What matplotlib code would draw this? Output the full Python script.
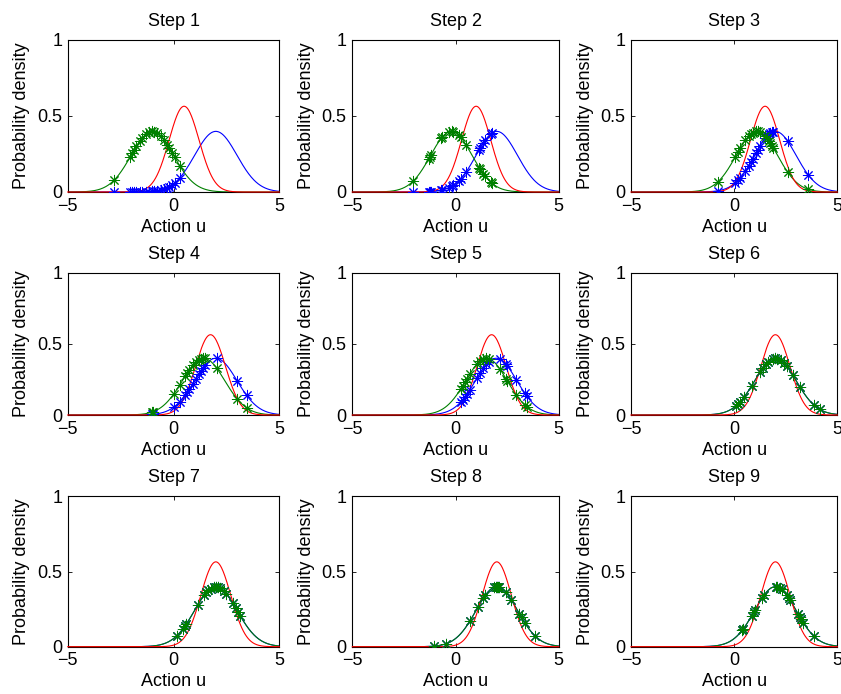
import numpy as np
import matplotlib
matplotlib.use('Agg')
import matplotlib.pyplot as plt

plt.rcParams['font.family'] = ['Liberation Sans', 'DejaVu Sans']
plt.rcParams['font.size'] = 13

# Gaussian parameters per step
red_mu = [0.5, 1.0, 1.5, 1.75, 1.75, 2.0, 2.0, 2.0, 2.0]
red_sigma = 0.707
blue_mu = [2.0, 2.0, 2.0, 2.0, 1.97, 2.0, 2.0, 2.0, 2.0]
green_mu = [-1.0, -0.2, 1.1, 1.42, 1.5, 2.0, 2.0, 2.0, 2.0]
pol_sigma = 1.0

# sampled actions per step
samples = [
    [-2.8, -2.05, -1.95, -1.85, -1.75, -1.6, -1.5, -1.3, -1.15, -1.0,
     -0.9, -0.8, -0.6, -0.45, -0.3, -0.2, -0.05, 0.05, 0.3],
    [-2.05, -1.3, -1.25, -1.2, -0.7, -0.65, -0.3, -0.15, -0.1, 0.15,
     0.25, 0.5, 1.15, 1.2, 1.35, 1.45, 1.7, 1.75],
    [-0.8, 0.05, 0.2, 0.3, 0.55, 0.7, 0.8, 0.9, 1.05, 1.15, 1.25, 1.5,
     1.6, 1.7, 1.75, 1.85, 1.9, 2.6, 3.6],
    [-1.0, -0.98, 0.0, 0.3, 0.55, 0.65, 0.75, 0.9, 1.05, 1.2, 1.3, 1.4,
     1.5, 2.05, 3.0, 3.45],
    [0.25, 0.35, 0.45, 0.55, 0.7, 1.05, 1.2, 1.35, 1.5, 1.6, 2.15, 2.45,
     2.5, 2.95, 3.35, 3.45],
    [0.1, 0.2, 0.3, 0.5, 0.85, 1.25, 1.4, 1.55, 1.65, 1.9, 2.0, 2.1, 2.25,
     2.4, 2.55, 2.85, 3.2, 3.85, 4.15],
    [0.15, 0.45, 0.55, 0.6, 1.15, 1.45, 1.55, 1.65, 1.75, 1.9, 2.0, 2.1,
     2.2, 2.4, 2.5, 2.8, 2.95, 3.05, 3.15],
    [-1.05, -0.45, 0.7, 1.1, 1.35, 1.45, 1.85, 1.95, 2.0, 2.05, 2.1, 2.45,
     2.7, 3.1, 3.2, 3.35, 3.85],
    [0.4, 0.45, 0.85, 0.95, 1.0, 1.35, 1.45, 2.05, 2.1, 2.2, 2.3, 2.55,
     2.65, 2.7, 3.1, 3.2, 3.25, 3.35, 3.85],
]


def gauss(x, mu, s):
    return np.exp(-0.5 * ((x - mu) / s) ** 2) / (s * np.sqrt(2 * np.pi))


u = np.linspace(-5, 5, 401)
green = (0, 0.5, 0)
star = (8, 2, 0)

fig = plt.figure(figsize=(8.41, 6.94), dpi=100)

W, H = 841.0, 694.0
cols = [(67.7, 279.3), (352.3, 558.7), (631.0, 837.3)]
rows = [(40.0, 192.0), (272.7, 415.0), (496.3, 646.7)]

for k in range(9):
    r, c = divmod(k, 3)
    x0, x1 = cols[c]
    y0, y1 = rows[r]
    ax = fig.add_axes([x0 / W, 1 - y1 / H, (x1 - x0) / W, (y1 - y0) / H])

    xs = np.array(samples[k])
    ax.plot(u, gauss(u, blue_mu[k], pol_sigma), color='b', lw=0.8)
    ax.plot(u, gauss(u, green_mu[k], pol_sigma), color=green, lw=0.8)
    ax.plot(u, gauss(u, red_mu[k], red_sigma), color='r', lw=0.8, zorder=3,
            clip_on=False)
    ax.plot(xs, gauss(xs, blue_mu[k], pol_sigma), ls='none', marker=star,
            ms=8, mec='b', mew=0.7, zorder=4)
    ax.plot(xs, gauss(xs, green_mu[k], pol_sigma), ls='none', marker=star,
            ms=8, mec=green, mew=0.7, zorder=5)

    ax.set_xlim(-5, 5)
    ax.set_ylim(0, 1)
    ax.set_xticks([-5, 0, 5])
    ax.set_yticks([0, 0.5, 1])
    ax.set_yticklabels(['0', '0.5', '1'])
    ax.set_xticklabels(['\u22125', '0', '5'])
    ax.tick_params(direction='in', length=3, width=0.6, top=True, right=True,
                   labelsize=13, pad=4)
    for sp in ax.spines.values():
        sp.set_linewidth(0.8)
    ax.set_title('Step %d' % (k + 1), fontsize=13, pad=10)
    ax.set_xlabel('Action u', fontsize=13, labelpad=3)
    ax.set_ylabel('Probability density', fontsize=13, labelpad=5)

fig.savefig('out.png', dpi=100)
